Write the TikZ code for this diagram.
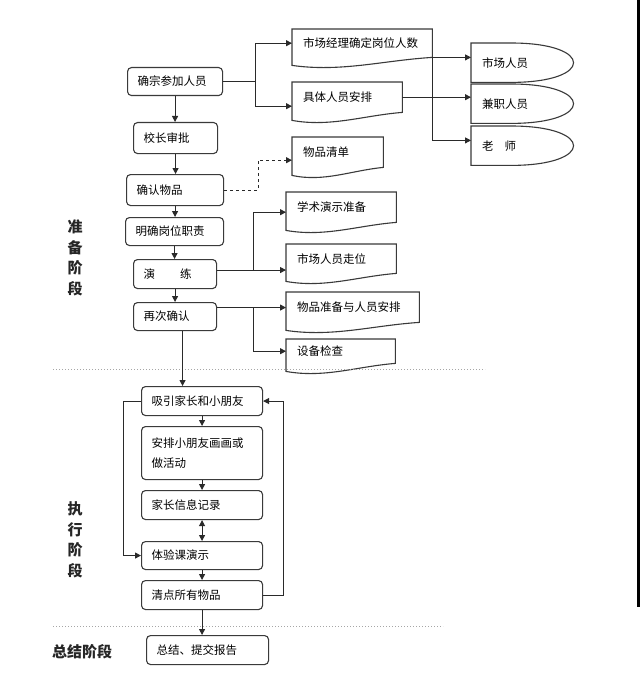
\documentclass[tikz,border=0pt]{standalone}
\usepackage{fontspec}
\newfontfamily\cjk{Noto Sans CJK SC}
\usetikzlibrary{arrows.meta,calc}
\definecolor{ln}{HTML}{2A2A2A}
\definecolor{bc}{HTML}{3A3A3A}
\newcommand\txt{\cjk\fontsize{11.5}{20}\selectfont}
\newcommand\labtxt{\cjk\bfseries\fontsize{15}{20.5}\selectfont}
\tikzset{
  box/.style={draw=bc, line width=1.1pt, rounded corners=4pt, anchor=north west,
    inner xsep=10pt, inner ysep=0pt, align=left, font=\txt},
  doc/.style={anchor=north west, inner xsep=11pt, inner ysep=0pt, align=left, font=\txt},
  shp/.style={draw=bc, line width=1.1pt},
  arr/.style={draw=ln, line width=1pt, -{Triangle[length=6pt,width=6pt]}},
  darr/.style={draw=ln, line width=1pt, {Triangle[length=6pt,width=6pt]}-{Triangle[length=6pt,width=6pt]}},
  wire/.style={draw=ln, line width=1pt},
  sep/.style={draw=gray!70, line width=1pt, dotted},
  lab/.style={align=center, font=\labtxt, text=black!85}
}
\newcommand\docpath[1]{%
  \draw[shp] ($(#1.south west)+(0,8)$) -- (#1.north west) -- (#1.north east) -- (#1.south east)
    .. controls ($(#1.south east)!0.35!(#1.south west)+(0,3)$) and ($(#1.south east)!0.65!(#1.south west)+(0,15)$)
    .. ($(#1.south west)+(0,8)$) -- cycle;}
\newcommand\delaypath[1]{%
  \draw[shp] (#1.north west) -- ($(#1.north west)+(40,0)$)
    .. controls ($(#1.north east)+(21,0)$) and ($(#1.south east)+(21,0)$)
    .. ($(#1.south west)+(40,0)$) -- (#1.south west) -- cycle;}
\begin{document}
\begin{tikzpicture}[x=1pt,y=-1pt]
\useasboundingbox[fill=white] (0,0) rectangle (640,682);
\fill[black] (637,0) rectangle (640,607);

% left column (preparation)
\node[box, text width=75pt, minimum height=28pt] (qd) at (127,67) {确宗参加人员};
\node[box, text width=64pt, minimum height=31pt] (xz) at (133,122) {校长审批};
\node[box, text width=77pt, minimum height=31pt] (qr) at (126,174) {确认物品};
\node[box, text width=78pt, minimum height=28pt] (mq) at (125,217) {明确岗位职责};
\node[box, text width=63pt, minimum height=29pt] (yl) at (133,259) {演\hspace{25pt}练};
\node[box, text width=63pt, minimum height=28pt] (zc) at (133,302) {再次确认};

% documents
\node[doc, text width=118pt, minimum height=28pt] (mj) at (292,29) {市场经理确定岗位人数};
\node[doc, text width=88pt, minimum height=30pt] (jt) at (292,82) {具体人员安排};
\node[doc, text width=69pt, minimum height=30pt] (wp) at (292,137) {物品清单};
\node[doc, text width=88pt, minimum height=30pt] (xs) at (286,192) {学术演示准备};
\node[doc, text width=88pt, minimum height=29pt] (zw) at (286,244) {市场人员走位};
\node[doc, text width=111pt, minimum height=30pt] (wz) at (286,292) {物品准备与人员安排};
\node[doc, text width=87pt, minimum height=24pt] (sb) at (286,339) {设备检查};
\docpath{mj}\docpath{jt}\docpath{wp}\docpath{xs}\docpath{zw}\docpath{wz}\docpath{sb}

% delay shapes
\node[doc, text width=80pt, minimum height=39pt] (sc) at (471,43) {市场人员};
\node[doc, text width=80pt, minimum height=39pt] (jzr) at (471,84) {兼职人员};
\node[doc, text width=80pt, minimum height=39pt] (ls) at (471,126) {老\hspace{11pt}师};
\delaypath{sc}\delaypath{jzr}\delaypath{ls}

% execution column
\node[box, text width=101pt, minimum height=29pt] (xy) at (141,386) {吸引家长和小朋友};
\node[box, text width=101pt, minimum height=53pt] (ap) at (141,426) {安排小朋友画画或\\做活动};
\node[box, text width=101pt, minimum height=29pt] (jx) at (141,490) {家长信息记录};
\node[box, text width=101pt, minimum height=28pt] (ty) at (141,541) {体验课演示};
\node[box, text width=101pt, minimum height=29pt] (qd2) at (141,580) {清点所有物品};
\node[box, text width=102pt, minimum height=29pt] (zj) at (146,635) {总结、提交报告};

% phase labels
\node[lab] (l1) at (75,258) {准\\备\\阶\\段};
\node[lab] (l2) at (75,540) {执\\行\\阶\\段};
\node[lab] (l3) at (82,652) {总结阶段};

% separators
\draw[sep] (53,369) -- (485,369);
\draw[sep] (53,626) -- (443,626);

% preparation connectors
\draw[arr] (qd.south) -- (qd.south |- xz.north);
\draw[arr] (xz.south) -- (xz.south |- qr.north);
\draw[arr] (qr.south) -- (qr.south |- mq.north);
\draw[arr] (mq.south) -- (mq.south |- yl.north);
\draw[arr] (yl.south) -- (yl.south |- zc.north);
\draw[arr] ([xshift=7.5pt]zc.south) -- ([xshift=7.5pt]zc.south |- xy.north);

\draw[arr] (qd.east) -- ++(32,0) |- (mj.west);
\draw[arr] (qd.east) -- ++(32,0) |- ([yshift=-9pt]jt.west);
\draw[arr, dashed] (qr.east) -- ++(34,0) |- ([yshift=-8pt]wp.west);

\draw[wire] (mj.south east) -- ++(0,83) coordinate (bb);
\draw[arr] (mj.south east) -- (mj.south east -| sc.west);
\draw[arr] (jt.east) -- (jt.east -| jzr.west);
\draw[arr] (bb) -- (bb -| ls.west);

\draw[arr] ([yshift=4pt]yl.east) -- ([yshift=4pt]yl.east -| zw.west);
\draw[arr] ([yshift=4pt]yl.east) -- ++(36,0) |- ([yshift=-5pt]xs.west);
\draw[arr] ([yshift=9pt]zc.east) -- ([yshift=9pt]zc.east -| wz.west);
\draw[arr] ([yshift=9pt]zc.east) -- ++(36,0) |- (sb.west);

% execution connectors
\draw[arr] (xy.south) -- (ap.north);
\draw[arr] (ap.south) -- (jx.north);
\draw[darr] (jx.south) -- (ty.north);
\draw[arr] (ty.south) -- (qd2.north);
\draw[arr] (qd2.south) -- (qd2.south |- zj.north);
\draw[arr] (xy.west) -- ++(-18,0) |- (ty.west);
\draw[arr] (qd2.east) -- ++(20,0) |- (xy.east);
\end{tikzpicture}
\end{document}
